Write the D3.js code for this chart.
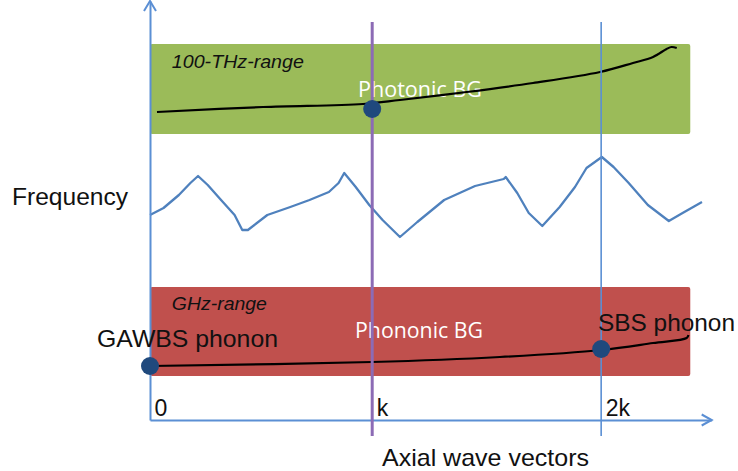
<!DOCTYPE html>
<html>
<head>
<meta charset="utf-8">
<script src="https://cdn.jsdelivr.net/npm/d3@7"></script>
<style>
  body { margin: 0; background: #fff; }
  text { font-family: "Liberation Sans", Arial, sans-serif; }
</style>
</head>
<body>
<div class="chart"></div>
<script>
// DATA ------------------------------
// x in units of k, y in arbitrary frequency units
const tickValues = [0, 0.985, 2];
const tickLabels = ['0', 'k', '2k'];

const waveX = [0, 0.06, 0.128, 0.179, 0.213, 0.256, 0.315, 0.375, 0.409, 0.434, 0.52, 0.622, 0.707, 0.793, 0.836, 0.861, 0.912, 0.972, 1.031, 1.108, 1.185, 1.304, 1.441, 1.568, 1.577, 1.628, 1.679, 1.739, 1.816, 1.884, 1.935, 2.003, 2.055, 2.122, 2.207, 2.3, 2.361, 2.447];
const waveY = [205, 212, 225, 237, 244, 235, 220, 205, 190, 190, 205, 213, 220, 228, 237, 247, 233, 215, 200, 183, 198, 220, 234, 241, 243, 227, 207, 194, 213, 233, 252, 263, 253, 237, 215, 199, 207, 218];

const photonX = [0.031, 0.501, 0.944, 1.108, 1.404, 1.698, 1.995, 2.141, 2.23, 2.29, 2.312, 2.335];
const photonY = [308, 313, 316, 320, 328, 337, 348, 357, 363, 371, 373, 372];

const phononX = [0, 0.984, 1.551, 2.002, 2.23, 2.379, 2.387];
const phononY = [54, 58, 63, 70, 77, 82, 85];

const bandNames = ['100-THz-range', 'GHz-range'];
const bandLabels = ['Photonic BG', 'Phononic BG'];
const bandLow = [286, 44];
const bandHigh = [376, 133];
const bandEnd = 2.395;

const dotX = [0.985, 0, 2];
const dotY = [311, 54, 71];
const dotLabels = ['', 'GAWBS phonon', 'SBS phonon'];

// CHART INIT ------------------------------
const W = 738, H = 471;
const svg = d3.select('.chart').append('svg')
  .attr('width', W).attr('height', H);

const x = d3.scaleLinear().domain([0, 2.49]).range([150, 711.7]);
const y = d3.scaleLinear().domain([0, 419]).range([420, 1]);

const axisBlue = '#5b8fd4';

// bands
const bands = bandNames.map((n, i) => ({ name: n, label: bandLabels[i], lo: bandLow[i], hi: bandHigh[i] }));
const bandColors = ['#9bbb59', '#c0504d'];

svg.selectAll('rect.band').data(bands).join('rect')
  .attr('class', 'band')
  .attr('x', x(0))
  .attr('y', d => y(d.hi))
  .attr('width', x(bandEnd) - x(0))
  .attr('height', d => y(d.lo) - y(d.hi))
  .attr('rx', 2)
  .attr('fill', (d, i) => bandColors[i]);

svg.selectAll('text.bandname').data(bands).join('text')
  .attr('class', 'bandname')
  .attr('x', x(0.097))
  .attr('y', (d, i) => y(d.hi) + (i === 0 ? 24 : 22.5))
  .attr('font-size', 19)
  .attr('font-style', 'italic')
  .attr('fill', '#111')
  .attr('textLength', (d, i) => (i === 0 ? 132 : 95))
  .attr('lengthAdjust', 'spacingAndGlyphs')
  .text(d => d.name);

svg.selectAll('text.bandlabel').data(bands).join('text')
  .attr('class', 'bandlabel')
  .attr('x', (d, i) => (i === 0 ? 358 : 355))
  .attr('y', (d, i) => y(d.hi) + (i === 0 ? 53 : 51))
  .attr('font-size', 22)
  .style('font-family', '"Open Sans", "Noto Sans", sans-serif')
  .attr('fill', '#fff')
  .attr('textLength', (d, i) => (i === 0 ? 124 : 128))
  .attr('lengthAdjust', 'spacingAndGlyphs')
  .text(d => d.label);

// dispersion curves
const line = d3.line().x(d => x(d[0])).y(d => y(d[1])).curve(d3.curveCatmullRom);

svg.append('path')
  .datum(photonX.map((v, i) => [v, photonY[i]]))
  .attr('d', line)
  .attr('fill', 'none').attr('stroke', '#000').attr('stroke-width', 2.2);

svg.append('path')
  .datum(phononX.map((v, i) => [v, phononY[i]]))
  .attr('d', line)
  .attr('fill', 'none').attr('stroke', '#000').attr('stroke-width', 2.2);

// wave
svg.append('path')
  .datum(waveX.map((v, i) => [v, waveY[i]]))
  .attr('d', d3.line().x(d => x(d[0])).y(d => y(d[1])))
  .attr('fill', 'none')
  .attr('stroke', '#4f81bd')
  .attr('stroke-width', 2.3)
  .attr('stroke-linejoin', 'round');

// axes
const xAxis = d3.axisBottom(x).tickValues(tickValues)
  .tickFormat((d, i) => tickLabels[i]).tickSize(0).tickSizeOuter(0);
const xAxisGroup = svg.append('g').attr('transform', 'translate(0,' + y(0) + ')').call(xAxis);
xAxisGroup.select('.domain').attr('stroke', axisBlue).attr('stroke-width', 2);
xAxisGroup.selectAll('.tick text')
  .attr('y', -4).attr('dy', 0).attr('dx', 4)
  .attr('text-anchor', 'start')
  .attr('font-size', 23)
  .attr('font-family', '"Liberation Sans", Arial, sans-serif')
  .attr('fill', '#111');

const yAxis = d3.axisLeft(y).tickValues([]).tickSizeOuter(0);
const yAxisGroup = svg.append('g').attr('transform', 'translate(' + x(0) + ',0)').call(yAxis);
yAxisGroup.select('.domain').attr('stroke', axisBlue).attr('stroke-width', 2);

// arrow heads
const xe = x.range()[1], ye = y.range()[1];
svg.append('path')
  .attr('d', `M${xe - 10},${y(0) - 5.5}L${xe},${y(0)}L${xe - 10},${y(0) + 5.5}`)
  .attr('fill', 'none').attr('stroke', axisBlue).attr('stroke-width', 2);
svg.append('path')
  .attr('d', `M${x(0) - 6},${ye + 10}L${x(0)},${ye}L${x(0) + 6},${ye + 10}`)
  .attr('fill', 'none').attr('stroke', axisBlue).attr('stroke-width', 2);

// vertical lines at k and 2k
const vColors = ['#8c6bb5', '#5b8fd4'];
const vWidths = [3, 1.6];
svg.selectAll('line.vline').data(tickValues.slice(1)).join('line')
  .attr('class', 'vline')
  .attr('x1', d => x(d)).attr('x2', d => x(d))
  .attr('y1', y(398)).attr('y2', y(-16))
  .attr('stroke', (d, i) => vColors[i])
  .attr('stroke-width', (d, i) => vWidths[i]);

// dots
svg.selectAll('circle.dot').data(dotX).join('circle')
  .attr('class', 'dot')
  .attr('cx', d => x(d))
  .attr('cy', (d, i) => y(dotY[i]))
  .attr('r', 9)
  .attr('fill', '#1f497d');

// phonon labels
const lblPos = [null, [97, 347, 181], [598, 331, 137]];
dotLabels.forEach((t, i) => {
  if (!t) return;
  svg.append('text')
    .attr('x', lblPos[i][0]).attr('y', lblPos[i][1])
    .attr('font-size', 24)
    .attr('fill', '#111')
    .attr('textLength', lblPos[i][2])
    .attr('lengthAdjust', 'spacingAndGlyphs')
    .text(t);
});

// axis titles
svg.append('text')
  .attr('x', 12).attr('y', 205)
  .attr('font-size', 24).attr('fill', '#111')
  .attr('textLength', 116).attr('lengthAdjust', 'spacingAndGlyphs')
  .text('Frequency');

svg.append('text')
  .attr('x', 382).attr('y', 466)
  .attr('font-size', 24).attr('fill', '#111')
  .attr('textLength', 207).attr('lengthAdjust', 'spacingAndGlyphs')
  .text('Axial wave vectors');
</script>
</body>
</html>
